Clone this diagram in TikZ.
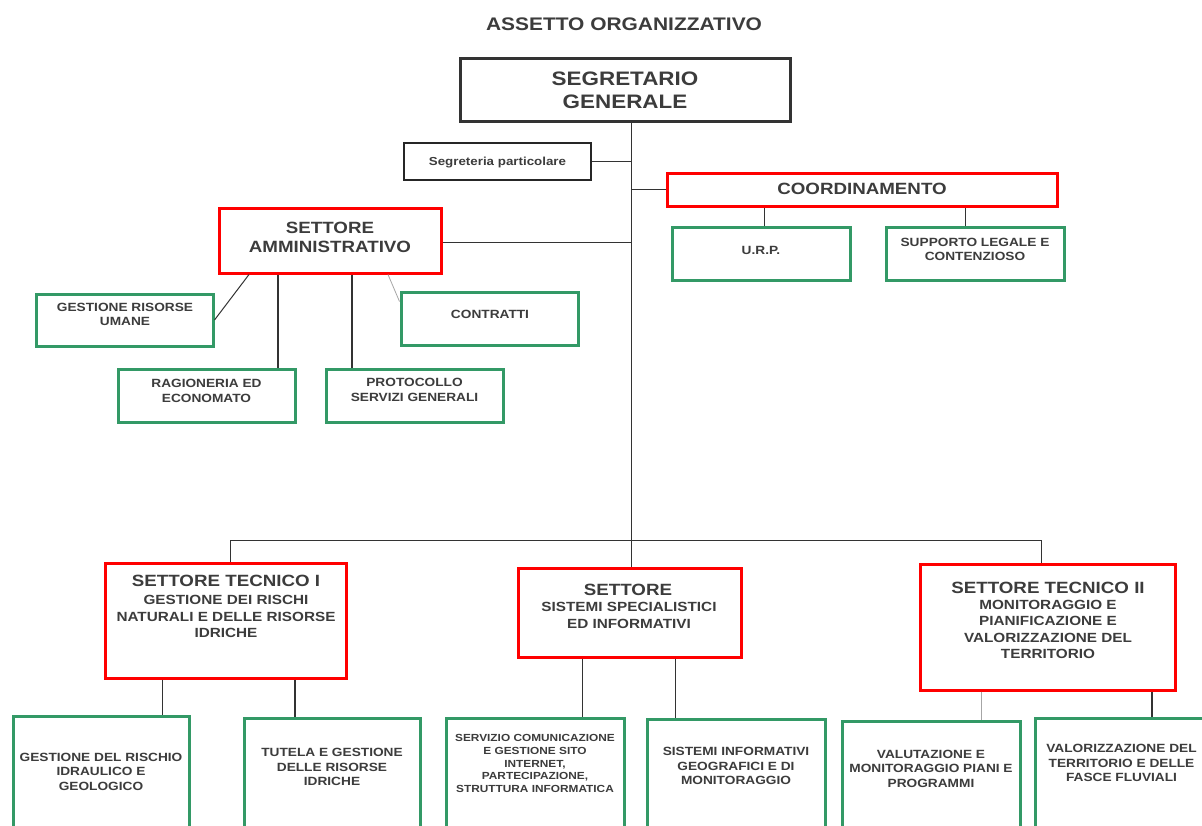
\documentclass[tikz,border=0pt]{standalone}
\usepackage{fontspec}
\setmainfont{Liberation Sans}[FakeStretch=1.15]
\definecolor{txtc}{HTML}{3C3C3C}
\definecolor{linec}{HTML}{333333}
\definecolor{grn}{HTML}{339966}
\definecolor{rd}{HTML}{FF0000}
\newcommand{\ftTitle}{\fontsize{18.2}{21}\selectfont\bfseries}
\newcommand{\ftSeg}{\fontsize{19.5}{23}\selectfont\bfseries}
\newcommand{\ftSet}{\fontsize{16.3}{19}\selectfont\bfseries}
\newcommand{\ftSub}{\fontsize{13.3}{16.3}\selectfont\bfseries}
\newcommand{\ftG}{\fontsize{11.9}{14.6}\selectfont\bfseries}
\newcommand{\ftS}{\fontsize{10.3}{12.8}\selectfont\bfseries}
\begin{document}
\begin{tikzpicture}[x=1pt,y=-1pt,
  gbox/.style={draw=grn,line width=3pt,fill=none,inner sep=0pt},
  rbox/.style={draw=rd,line width=3pt,fill=none,inner sep=0pt},
  kbox/.style={draw=linec,line width=3pt,fill=none,inner sep=0pt},
  tbox/.style={draw=black!85,line width=1.2pt,fill=none,inner sep=0pt},
  txt/.style={text=txtc,inner sep=0pt,align=center},
  conn/.style={draw=linec,line width=1pt},
  thickconn/.style={draw=linec,line width=2pt},
  lightconn/.style={draw=gray!70,line width=0.8pt}]
\useasboundingbox[fill=white] (0,0) rectangle (1202,825);

% title
\node[txt,font=\ftTitle] (title) at (624,24) {ASSETTO ORGANIZZATIVO};

% top
\node[kbox,minimum width=330pt,minimum height=63pt] (seg) at (625,89.5) {};
\node[txt,font=\ftSeg] (seg-t) at (625,90.5) {SEGRETARIO\\GENERALE};

\node[tbox,minimum width=187pt,minimum height=37pt] (segp) at (497.5,161.5) {};
\node[txt,font=\fontsize{11.6}{14}\selectfont\bfseries] (segp-t) at (497.5,163) {Segreteria particolare};

\node[rbox,minimum width=390pt,minimum height=33pt] (coord) at (862,189.5) {};
\node[txt,font=\ftSet] (coord-t) at (862,188.5) {COORDINAMENTO};

\node[gbox,minimum width=178pt,minimum height=53pt] (urp) at (761,253.5) {};
\node[txt,font=\ftG] (urp-t) at (761,250) {U.R.P.};

\node[gbox,minimum width=178pt,minimum height=53pt] (sup) at (975,253.5) {};
\node[txt,font=\ftG] (sup-t) at (975,249.5) {SUPPORTO LEGALE E\\CONTENZIOSO};

% settore amministrativo
\node[rbox,minimum width=222pt,minimum height=65pt] (samm) at (330,240.5) {};
\node[txt,font=\ftSet] (samm-t) at (330,237.5) {SETTORE\\AMMINISTRATIVO};

\node[gbox,minimum width=177pt,minimum height=52pt] (grum) at (124.5,320) {};
\node[txt,font=\ftG] (grum-t) at (125,314.5) {GESTIONE RISORSE\\UMANE};

\node[gbox,minimum width=177pt,minimum height=53pt] (contr) at (489.5,318.5) {};
\node[txt,font=\ftG] (contr-t) at (490,314) {CONTRATTI};

\node[gbox,minimum width=177pt,minimum height=53pt] (rag) at (206.5,395.5) {};
\node[txt,font=\ftG] (rag-t) at (206.5,391) {RAGIONERIA ED\\ECONOMATO};

\node[gbox,minimum width=177pt,minimum height=53pt] (prot) at (414.5,395.5) {};
\node[txt,font=\ftG] (prot-t) at (414.5,390) {PROTOCOLLO\\SERVIZI GENERALI};

% settori tecnici
\node[rbox,minimum width=241pt,minimum height=115pt] (st1) at (225.5,620.5) {};
\node[txt,font=\ftSet] (st1-t) at (226,580.5) {SETTORE TECNICO I};
\node[txt,font=\ftSub] (st1-s) at (226,616.5) {GESTIONE DEI RISCHI\\NATURALI E DELLE RISORSE\\IDRICHE};

\node[rbox,minimum width=223pt,minimum height=89pt] (sss) at (629.5,612.5) {};
\node[txt,font=\ftSet] (sss-t) at (628,589.5) {SETTORE};
\node[txt,font=\fontsize{13.3}{17}\selectfont\bfseries] (sss-s) at (629,615.5) {SISTEMI SPECIALISTICI\\ED INFORMATIVI};

\node[rbox,minimum width=255pt,minimum height=126pt] (st2) at (1047.5,627) {};
\node[txt,font=\ftSet] (st2-t) at (1048,588) {SETTORE TECNICO II};
\node[txt,font=\ftSub] (st2-s) at (1048,629.5) {MONITORAGGIO E\\PIANIFICAZIONE E\\VALORIZZAZIONE DEL\\TERRITORIO};

% bottom boxes
\node[gbox,minimum width=176pt,minimum height=125pt,anchor=north] (b1) at (101,715) {};
\node[txt,font=\ftG] (b1-t) at (101,771.5) {GESTIONE DEL RISCHIO\\IDRAULICO E\\GEOLOGICO};

\node[gbox,minimum width=176pt,minimum height=125pt,anchor=north] (b2) at (332,717) {};
\node[txt,font=\ftG] (b2-t) at (332,767) {TUTELA E GESTIONE\\DELLE RISORSE\\IDRICHE};

\node[gbox,minimum width=178pt,minimum height=125pt,anchor=north] (b3) at (535,717) {};
\node[txt,font=\ftS] (b3-t) at (535,763.5) {SERVIZIO COMUNICAZIONE\\E GESTIONE SITO\\INTERNET,\\PARTECIPAZIONE,\\STRUTTURA INFORMATICA};

\node[gbox,minimum width=178pt,minimum height=125pt,anchor=north] (b4) at (736,718) {};
\node[txt,font=\ftG] (b4-t) at (736,766) {SISTEMI INFORMATIVI\\GEOGRAFICI E DI\\MONITORAGGIO};

\node[gbox,minimum width=178pt,minimum height=125pt,anchor=north] (b5) at (931,720) {};
\node[txt,font=\ftG] (b5-t) at (931,768.5) {VALUTAZIONE E\\MONITORAGGIO PIANI E\\PROGRAMMI};

\node[gbox,minimum width=178pt,minimum height=125pt,anchor=north] (b6) at (1124,717) {};
\node[txt,font=\ftG] (b6-t) at (1121.5,763) {VALORIZZAZIONE DEL\\TERRITORIO E DELLE\\FASCE FLUVIALI};

% connectors
\coordinate (bus) at (631,540);
\coordinate (busL) at (230,540);
\coordinate (busR) at (1041,540);

\draw[conn] (seg.south -| bus) -- (bus);
\draw[conn] (segp.east) -- (segp.east -| bus);
\draw[conn] (coord.west) -- (coord.west -| bus);
\draw[conn] ([yshift=-1.5pt]samm.east) -- ([yshift=-1.5pt]samm.east -| bus);

\draw[conn] ([xshift=3pt]urp.north) -- ([xshift=3pt]urp.north |- coord.south);
\draw[conn] ([xshift=-10pt]sup.north) -- ([xshift=-10pt]sup.north |- coord.south);

\draw[conn] ([xshift=-81pt]samm.south) -- (grum.east);
\draw[thickconn] ([xshift=-52pt]samm.south) -- ([xshift=-52pt]samm.south |- rag.north);
\draw[thickconn] ([xshift=22pt]samm.south) -- ([xshift=22pt]samm.south |- prot.north);
\draw[lightconn] ([xshift=58pt]samm.south) -- ([yshift=-11pt]contr.north west);

\draw[conn] (busL) -- (busR);
\draw[conn] (busL) -- (busL |- st1.north);
\draw[conn] (bus) -- (bus |- sss.north);
\draw[conn] (busR) -- (busR |- st2.north);

\draw[conn] ([xshift=-63.5pt]st1.south) -- ([xshift=-63.5pt]st1.south |- b1.north);
\draw[thickconn] ([xshift=69.5pt]st1.south) -- ([xshift=69.5pt]st1.south |- b2.north);
\draw[conn] ([xshift=-47.5pt]sss.south) -- ([xshift=-47.5pt]sss.south |- b3.north);
\draw[conn] ([xshift=45.5pt]sss.south) -- ([xshift=45.5pt]sss.south |- b4.north);
\draw[lightconn] ([xshift=-66.5pt]st2.south) -- ([xshift=-66.5pt]st2.south |- b5.north);
\draw[thickconn] ([xshift=104.5pt]st2.south) -- ([xshift=104.5pt]st2.south |- b6.north);
\end{tikzpicture}
\end{document}
